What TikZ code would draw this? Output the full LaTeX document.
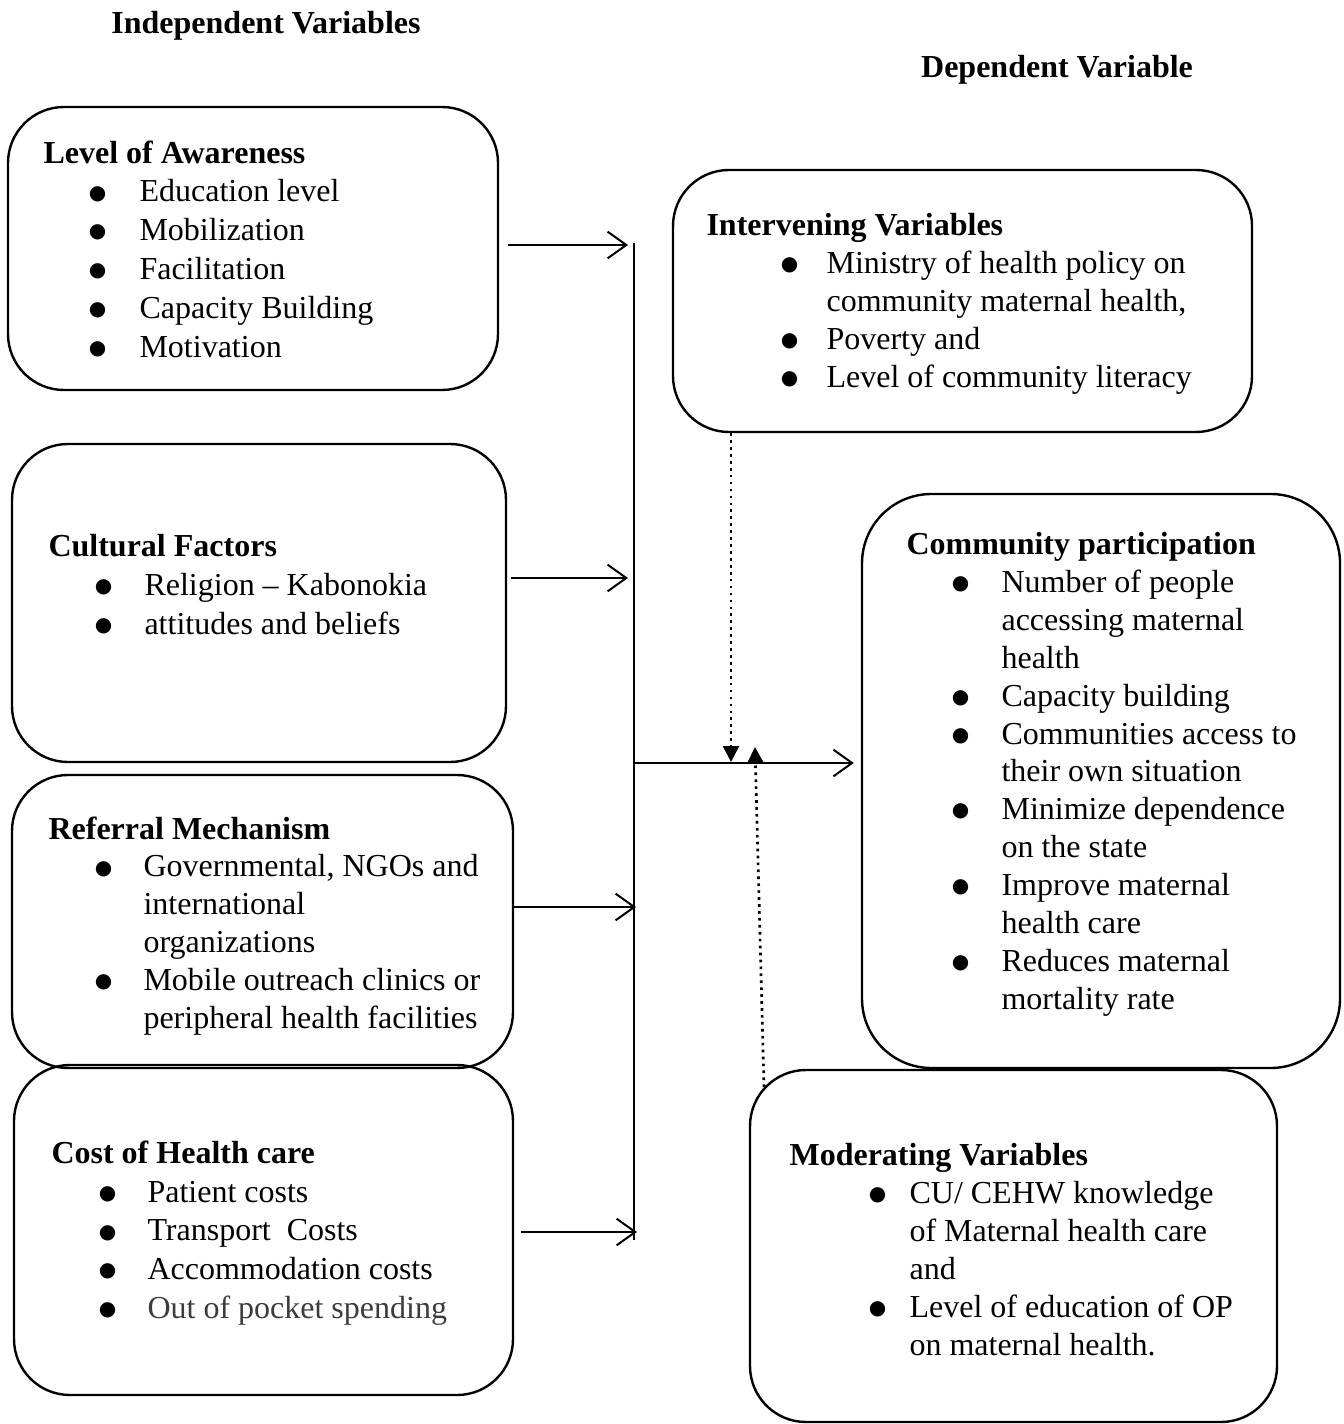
\documentclass[tikz,border=0pt]{standalone}
\usepackage{fontspec}
\setmainfont{Liberation Serif}
\newfontfamily\bulfont{DejaVu Sans}
\usetikzlibrary{arrows.meta,calc}
\newlength\pxl \setlength\pxl{0.375pt}
\newcommand\bigbul{{\bulfont\fontsize{7.5}{8}\selectfont\raisebox{1.1pt}{●}}}
\newcommand\bitem[3]{\\\hspace*{#1\pxl}\makebox[0pt]{\bigbul}\hspace*{#2\pxl}#3}
\newcommand\bcont[2]{\\\hspace*{#1\pxl}#2}
\definecolor{outgray}{HTML}{3C3C3C}
\begin{document}
\begin{tikzpicture}[x=0.375pt,y=-0.375pt,
  box/.style={draw, line width=0.9pt, rounded corners=21pt, inner sep=0pt},
  txt/.style={anchor=north west, inner sep=0pt, align=left, font=\fontsize{12}{14.2}\selectfont},
  txtw/.style={anchor=north west, inner sep=0pt, align=left, font=\fontsize{12}{14.6}\selectfont},
  ttl/.style={anchor=base, inner sep=0pt, font=\bfseries\fontsize{12}{14}\selectfont},
  arr/.style={line width=0.75pt, -{Straight Barb[length=7pt,width=10pt,line width=0.75pt]}},
  dot/.style={line width=1pt, dash pattern=on 1pt off 1.6pt, -{Triangle[length=6pt,width=6pt]}},
  bus/.style={line width=0.75pt}]
\useasboundingbox (0,0) rectangle (1343,1424);

% titles
\node[ttl] (indep) at (266,34) {Independent Variables};
\node[ttl] (dep) at (1057,78) {Dependent Variable};

% boxes
\node[box, minimum width=490*0.375pt, minimum height=283*0.375pt] (aw) at (253,248.5) {};
\node[box, minimum width=579*0.375pt, minimum height=262*0.375pt] (iv) at (962.5,301) {};
\node[box, minimum width=494*0.375pt, minimum height=318*0.375pt] (cf) at (259,603) {};
\node[box, rounded corners=26pt, minimum width=478*0.375pt, minimum height=574*0.375pt] (cp) at (1101,781) {};
\node[box, minimum width=501*0.375pt, minimum height=293*0.375pt] (rm) at (262.5,921.5) {};
\node[box, minimum width=499*0.375pt, minimum height=330*0.375pt] (ch) at (263.5,1230) {};
\node[box, minimum width=527*0.375pt, minimum height=352*0.375pt] (mv) at (1013.5,1246) {};

% texts
\node[txtw] (awt) at (43,140) {\textbf{Level of Awareness}%
  \bitem{54}{42}{Education level}\bitem{54}{42}{Mobilization}\bitem{54}{42}{Facilitation}%
  \bitem{54}{42}{Capacity Building}\bitem{54}{42}{Motivation}};
\node[txt] (ivt) at (706,213) {\textbf{Intervening Variables}%
  \bitem{83}{37}{Ministry of health policy on}\bcont{120}{community maternal health,}%
  \bitem{83}{37}{Poverty and}\bitem{83}{37}{Level of community literacy}};
\node[txtw] (cft) at (48,534) {\textbf{Cultural Factors}%
  \bitem{55}{41}{Religion – Kabonokia}\bitem{55}{41}{attitudes and beliefs}};
\node[txt] (cpt) at (906,532) {\textbf{Community participation}%
  \bitem{54}{41}{Number of people}\bcont{95}{accessing maternal}\bcont{95}{health}%
  \bitem{54}{41}{Capacity building}%
  \bitem{54}{41}{Communities access to}\bcont{95}{their own situation}%
  \bitem{54}{41}{Minimize dependence}\bcont{95}{on the state}%
  \bitem{54}{41}{Improve maternal}\bcont{95}{health care}%
  \bitem{54}{41}{Reduces maternal}\bcont{95}{mortality rate}};
\node[txt] (rmt) at (48,816) {\textbf{Referral Mechanism}%
  \bitem{55}{40}{Governmental, NGOs and}\bcont{95}{international}\bcont{95}{organizations}%
  \bitem{55}{40}{Mobile outreach clinics or}\bcont{95}{peripheral health facilities}};
\node[txtw] (cht) at (51,1140) {\textbf{Cost of Health care}%
  \bitem{56}{40}{Patient costs}\bitem{56}{40}{Transport\ \ Costs}%
  \bitem{56}{40}{Accommodation costs}\bitem{56}{40}{\textcolor{outgray}{Out of pocket spending}}};
\node[txt] (mvt) at (789,1143) {\textbf{Moderating Variables}%
  \bitem{88}{32}{CU/ CEHW knowledge}\bcont{120}{of Maternal health care}\bcont{120}{and}%
  \bitem{88}{32}{Level of education of OP}\bcont{120}{on maternal health.}};

% bus and connectors
\coordinate (bt) at (634,243);
\coordinate (bb) at (634,1240);
\draw[bus] (bt) -- (bb);
\coordinate (b1) at (628,245);
\coordinate (b2) at (628,578);
\coordinate (b3) at (636,907);
\coordinate (b4) at (637,1232);
\draw[arr] ($(aw.east |- b1)+(9,0)$) -- (b1);
\draw[arr] ($(cf.east |- b2)+(4,0)$) -- (b2);
\draw[arr] ($(rm.east |- b3)+(-2,0)$) -- (b3);
\draw[arr] ($(ch.east |- b4)+(7,0)$) -- (b4);
\coordinate (m0) at (634,763);
\draw[arr] (m0) -- ($(cp.west |- m0)+(-7,0)$);
\coordinate (d1) at (731,762);
\draw[dot] (iv.south -| d1) -- (d1);
\coordinate (u0) at (764,1087);
\coordinate (u1) at (755,747);
\draw[dot] (u0) -- (u1);
\end{tikzpicture}
\end{document}
